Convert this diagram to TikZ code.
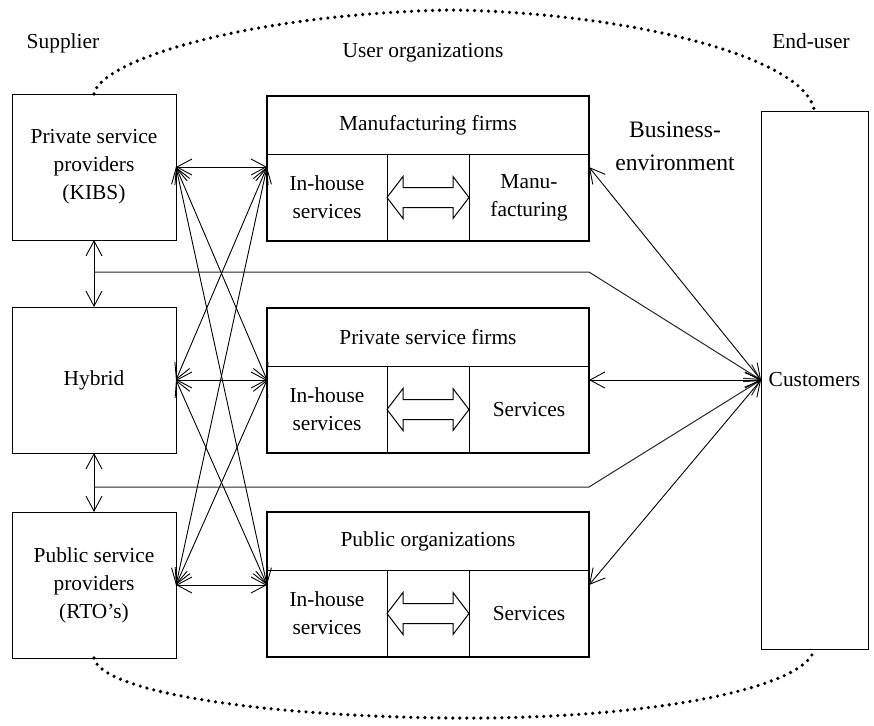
\documentclass[tikz,border=0pt]{standalone}
\usepackage{fontspec}
\setmainfont{Liberation Serif}
\usetikzlibrary{arrows.meta, positioning}

\begin{document}
\begin{tikzpicture}[x=0.5pt, y=-0.5pt, >={Straight Barb[length=7.5pt,width=8pt]}]

\tikzstyle{box}		=[rectangle, draw, line width=0.5pt, align=center, inner sep=0pt, outer sep=0pt]
\tikzstyle{prov}	=[box, minimum width=82pt, minimum height=73pt]
\tikzstyle{hdr}		=[box, minimum width=161pt, minimum height=29pt]
\tikzstyle{side}	=[box, minimum width=60pt, minimum height=43.5pt]
\tikzstyle{mid}		=[box, minimum width=41pt, minimum height=43.5pt]
\tikzstyle{frame}	=[line width=1.3pt]
\tikzstyle{link}	=[<->, line width=0.45pt]
\tikzstyle{bus}		=[->, line width=0.5pt, draw=black!85]
\tikzstyle{dots}	=[line width=1.8pt, line cap=round, dash pattern=on 0pt off 3.5pt]
\fontsize{10.7}{14}\selectfont

\useasboundingbox (0,0) rectangle (874,725);

\node[anchor=base]	(supp)	at (63,48)	{Supplier};
\node[anchor=base]	(users)	at (423,57)	{User organizations};
\node[anchor=base]	(endu)	at (811,48)	{End-user};
\node[align=center, font=\fontsize{11.8}{16.5}\selectfont] (env) at (675,146) {Business-\\environment};

% suppliers
\node[prov] (kibs)	at (94,167)	{Private service\\providers\\(KIBS)};
\node[prov] (hybrid)	at (94,380)	{Hybrid};
\node[prov] (rto)	at (94,585)	{Public service\\providers\\(RTO’s)};

% user organizations
\node[hdr] (mfg)	at (428,125)	{Manufacturing firms};
\node[side, below right=0pt and 0pt of mfg.south west]	(mc1) {In-house\\services};
\node[mid, right=0pt of mc1]	(mc2) {};
\node[side, right=0pt of mc2]	(mc3) {Manu-\\facturing};

\node[hdr] (psf)	at (428,337)	{Private service firms};
\node[side, below right=0pt and 0pt of psf.south west]	(pc1) {In-house\\services};
\node[mid, right=0pt of pc1]	(pc2) {};
\node[side, right=0pt of pc2]	(pc3) {Services};

\node[hdr] (pub)	at (428,541)	{Public organizations};
\node[side, below right=0pt and 0pt of pub.south west]	(oc1) {In-house\\services};
\node[mid, right=0pt of oc1]	(oc2) {};
\node[side, right=0pt of oc2]	(oc3) {Services};

\draw[frame] (mfg.north west) rectangle (mc3.south east);
\draw[frame] (psf.north west) rectangle (pc3.south east);
\draw[frame] (pub.north west) rectangle (oc3.south east);

\foreach \c in {mc2,pc2,oc2}
  \draw[line width=0.5pt] (\c) ++(-41,0) -- ++(16,21) -- ++(0,-11) -- ++(50,0) -- ++(0,11)
        -- ++(16,-21) -- ++(-16,-21) -- ++(0,11) -- ++(-50,0) -- ++(0,-11) -- cycle;

% end-user
\node[box, minimum width=53.5pt, minimum height=269pt] (cust) at (814.5,380) {Customers};

\coordinate (m1) at (kibs.east -| mfg.west);
\coordinate (m2) at (hybrid.east -| psf.west);
\coordinate (m3) at (rto.east -| pub.west);
\coordinate (r1) at (kibs.east -| mfg.east);
\coordinate (r2) at (hybrid.east -| psf.east);
\coordinate (r3) at (rto.east -| pub.east);
\coordinate (b1) at (94,272);
\coordinate (b2) at (94,487);

\foreach \a in {kibs,hybrid,rto}
  \foreach \b in {m1,m2,m3}
    \draw[link] (\a.east) -- (\b);

\draw[link] (kibs.south) -- (hybrid.north);
\draw[link] (hybrid.south) -- (rto.north);

\draw[bus] (b1) -- (b1 -| mfg.east) -- (cust.west);
\draw[bus] (b2) -- (b2 -| mfg.east) -- (cust.west);

\draw[link] (cust.west) -- (r1);
\draw[link] (cust.west) -- (r2);
\draw[link] (cust.west) -- (r3);

\draw[dots] (kibs.north) .. controls (100,60) and (250,14) .. (450,10)
            .. controls (620,12) and (805,55) .. (cust.north);
\draw[dots] (rto.south) .. controls (100,690) and (250,716) .. (450,718)
            .. controls (640,720) and (805,690) .. (cust.south);

\end{tikzpicture}
\end{document}
